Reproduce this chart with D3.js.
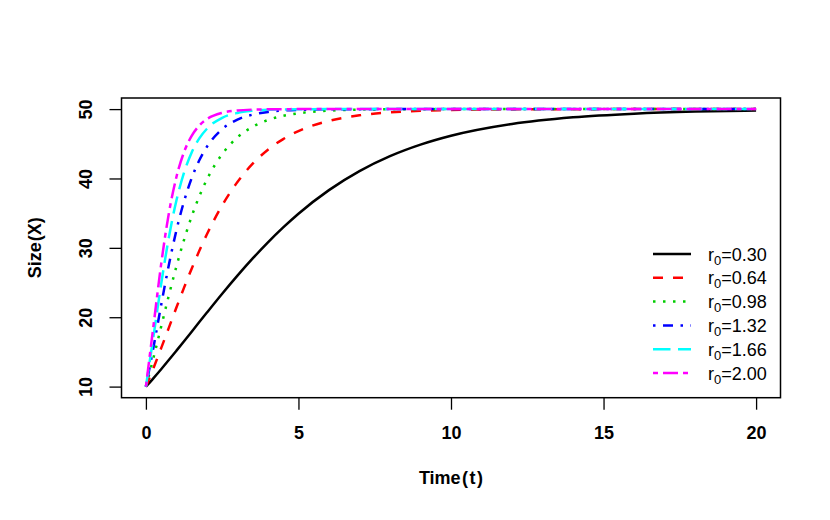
<!DOCTYPE html>
<html>
<head>
<meta charset="utf-8">
<script src="https://cdn.jsdelivr.net/npm/d3@7"></script>
<style>
  body { margin: 0; background: #fff; }
  svg { font-family: "Liberation Sans", Arial, sans-serif; }
  .tick text { font-size: 18px; font-weight: bold; fill: #000; }
  .tick line { stroke: #000; stroke-width: 1.3; }
  .axis-title { font-size: 18px; font-weight: bold; }
  .legend text { font-size: 18px; }
</style>
</head>
<body>
<div class="chart"></div>
<script>
// DATA -----------------------------------

// time points (t)
var times = [0, 0.25, 0.5, 0.75, 1, 1.25, 1.5, 1.75, 2, 2.5, 3, 3.5, 4, 4.5, 5,
             6, 7, 8, 9, 10, 12, 14, 16, 18, 20];

// size values
var size030 = [10.00, 11.23, 12.51, 13.83, 15.18, 16.54, 17.92, 19.30, 20.67, 23.38, 25.99, 28.47, 30.79, 32.94, 34.92,
               38.32, 41.06, 43.21, 44.87, 46.15, 47.85, 48.81, 49.34, 49.64, 49.80];
var size064 = [10.00, 12.69, 15.54, 18.47, 21.40, 24.26, 27.00, 29.57, 31.96, 36.13, 39.49, 42.13, 44.15, 45.68, 46.83,
               48.30, 49.10, 49.52, 49.75, 49.87, 49.96, 49.99, 50.00, 50.00, 50.00];
var size098 = [10.00, 14.19, 18.65, 23.11, 27.33, 31.16, 34.54, 37.43, 39.86, 43.52, 45.92, 47.46, 48.43, 49.03, 49.40,
               49.78, 49.92, 49.97, 49.99, 50.00, 50.00, 50.00, 50.00, 50.00, 50.00];
var size132 = [10.00, 15.72, 21.76, 27.49, 32.53, 36.71, 40.04, 42.62, 44.57, 47.12, 48.49, 49.21, 49.59, 49.79, 49.89,
               49.97, 49.99, 50.00, 50.00, 50.00, 50.00, 50.00, 50.00, 50.00, 50.00];
var size166 = [10.00, 17.27, 24.78, 31.46, 36.82, 40.85, 43.75, 45.78, 47.17, 48.75, 49.45, 49.76, 49.90, 49.95, 49.98,
               50.00, 50.00, 50.00, 50.00, 50.00, 50.00, 50.00, 50.00, 50.00, 50.00];
var size200 = [10.00, 18.84, 27.66, 34.92, 40.21, 43.81, 46.15, 47.63, 48.55, 49.46, 49.80, 49.93, 49.97, 49.99, 50.00,
               50.00, 50.00, 50.00, 50.00, 50.00, 50.00, 50.00, 50.00, 50.00, 50.00];

var rateLabels = ["0.30", "0.64", "0.98", "1.32", "1.66", "2.00"];
var xTicks = [0, 5, 10, 15, 20];
var yTicks = [10, 20, 30, 40, 50];

// line styles (R palette + lty 1..6)
var colors = ["#000000", "#FF0000", "#00CD00", "#0000FF", "#00FFFF", "#FF00FF"];
var dashes = ["none", "10,10", "2.5,7.5", "2.5,7.5,10,7.5", "17.5,7.5", "5,5,15,5"];

var seriesValues = [size030, size064, size098, size132, size166, size200];

// SET UP SVG -----------------------------------

var svgWidth = 830;
var svgHeight = 520;

// plot region (box)
var plot = { left: 121.5, right: 780.5, top: 98, bottom: 397.7 };

var svg = d3.select(".chart")
  .append("svg")
  .attr("width", svgWidth)
  .attr("height", svgHeight);

// scales: data range plus 4% on each side, like R
var xScale = d3.scaleLinear()
  .domain([-0.8, 20.8])
  .range([plot.left, plot.right]);

var yScale = d3.scaleLinear()
  .domain([8.4, 51.6])
  .range([plot.bottom, plot.top]);

// LINES -----------------------------------

var lineGen = d3.line()
  .x(d => xScale(d[0]))
  .y(d => yScale(d[1]))
  .curve(d3.curveMonotoneX);

var linesGroup = svg.append("g");

seriesValues.forEach(function(vals, i) {
  var pts = times.map((t, j) => [t, vals[j]]);
  linesGroup.append("path")
    .datum(pts)
    .attr("d", lineGen)
    .attr("fill", "none")
    .attr("stroke", colors[i])
    .attr("stroke-width", 2.5)
    .attr("stroke-dasharray", dashes[i]);
});

// AXES -----------------------------------

var bottomAxis = d3.axisBottom(xScale)
  .tickValues(xTicks)
  .tickSize(12)
  .tickPadding(17)
  .tickFormat(d3.format("d"));

var xAxis = svg.append("g")
  .attr("transform", `translate(0, ${plot.bottom})`)
  .call(bottomAxis);
xAxis.select(".domain").remove();

var leftAxis = d3.axisLeft(yScale)
  .tickValues(yTicks)
  .tickSize(12)
  .tickFormat(d3.format("d"));

var yAxis = svg.append("g")
  .attr("transform", `translate(${plot.left}, 0)`)
  .call(leftAxis);
yAxis.select(".domain").remove();

// rotate y tick labels (R las = 0)
yAxis.selectAll(".tick text")
  .attr("transform", "rotate(-90)")
  .attr("x", 0)
  .attr("y", -30)
  .attr("dy", 0)
  .attr("text-anchor", "middle");

// plot box
svg.append("rect")
  .attr("x", plot.left)
  .attr("y", plot.top)
  .attr("width", plot.right - plot.left)
  .attr("height", plot.bottom - plot.top)
  .attr("fill", "none")
  .attr("stroke", "#000")
  .attr("stroke-width", 1.5);

// axis titles
var xTitle = svg.append("text")
  .attr("class", "axis-title")
  .attr("x", (plot.left + plot.right) / 2)
  .attr("y", 484)
  .attr("text-anchor", "middle");
xTitle.append("tspan").text("Time");
xTitle.append("tspan").attr("dx", 1.5).text("(");
xTitle.append("tspan").attr("dx", 1.5).text("t");
xTitle.append("tspan").attr("dx", 1.5).text(")");

var yTitle = svg.append("text")
  .attr("class", "axis-title")
  .attr("transform", `translate(41, ${(plot.top + plot.bottom) / 2}) rotate(-90)`)
  .attr("text-anchor", "middle");
yTitle.append("tspan").text("Size");
yTitle.append("tspan").attr("dx", 1).text("(X)");

// LEGEND -----------------------------------

var legend = svg.append("g").attr("class", "legend");

rateLabels.forEach(function(lab, i) {
  var y = 254 + i * 23.8;
  legend.append("line")
    .attr("x1", 653)
    .attr("x2", 691)
    .attr("y1", y)
    .attr("y2", y)
    .attr("stroke", colors[i])
    .attr("stroke-width", 2.5)
    .attr("stroke-dasharray", dashes[i]);

  var t = legend.append("text")
    .attr("x", 708)
    .attr("y", y + 6.5);
  t.append("tspan").text("r");
  t.append("tspan").attr("dy", 4).style("font-size", "13px").text("0");
  t.append("tspan").attr("dy", -4).text("=" + lab);
});
</script>
</body>
</html>
